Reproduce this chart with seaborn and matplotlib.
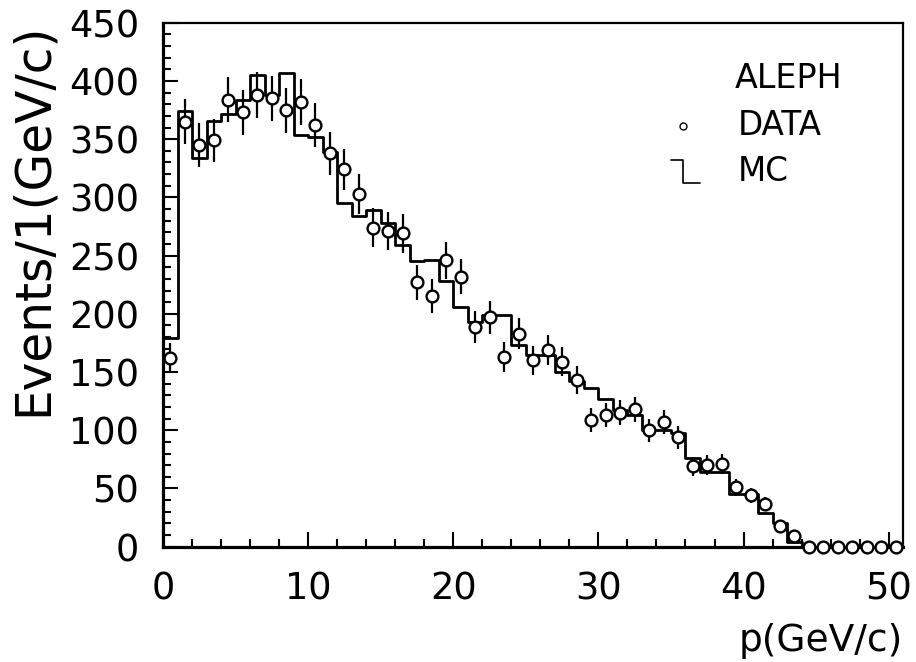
import numpy as np
import pandas as pd
import matplotlib
matplotlib.use("Agg")
import matplotlib.pyplot as plt
import seaborn as sns
from matplotlib.ticker import MultipleLocator
from matplotlib.lines import Line2D

# Momentum bins: 1 GeV/c wide, from 0 to 51 GeV/c
bin_edges = list(range(0, 52))
bin_centers = [e + 0.5 for e in bin_edges[:-1]]

# Observed events per bin
data_counts = [162, 365, 345, 349, 384, 373, 388, 385, 375, 382,
               362, 338, 324, 303, 274, 271, 269, 227, 215, 246,
               232, 189, 197, 163, 183, 160, 169, 159, 143, 109,
               113, 115, 118, 100, 107, 94, 69, 70, 71, 51,
               44, 37, 18, 9, 0, 0, 0, 0, 0, 0, 0]

# Simulated events per bin
mc_counts = [179, 374, 334, 366, 372, 384, 405, 388, 407, 354,
             352, 339, 295, 284, 289, 278, 259, 245, 246, 228,
             206, 193, 199, 199, 173, 165, 165, 150, 142, 136,
             127, 117, 113, 100, 100, 98, 76, 64, 64, 45,
             45, 29, 20, 4, 0, 0, 0, 0, 0, 0, 0]

x_ticks = [0, 10, 20, 30, 40, 50]
y_ticks = [0, 50, 100, 150, 200, 250, 300, 350, 400, 450]

df = pd.DataFrame({"p": bin_centers,
                   "data": np.asarray(data_counts, dtype=float),
                   "mc": np.asarray(mc_counts, dtype=float)})

sns.set_theme(style="ticks")
plt.rcParams['font.family'] = ['DejaVu Sans']
plt.rcParams['text.color'] = 'black'
plt.rcParams['axes.labelcolor'] = 'black'
plt.rcParams['xtick.color'] = 'black'
plt.rcParams['ytick.color'] = 'black'

fig = plt.figure(figsize=(9.16, 6.62), dpi=100)
ax = fig.add_axes([0.178, 0.1742, 0.808, 0.7914])

# Monte Carlo expectation as a step histogram
sns.histplot(data=df, x="p", weights="mc", bins=bin_edges,
             element="step", fill=False, color="black", linewidth=2.0,
             ax=ax)

# Data with Poisson error bars
ax.errorbar(df["p"], df["data"], yerr=np.sqrt(df["data"]), fmt='none',
            ecolor='black', elinewidth=1.6, capsize=0, zorder=3)
sns.scatterplot(data=df, x="p", y="data", marker='o', s=72,
                facecolor='white', edgecolor='black', linewidth=1.7,
                zorder=4, clip_on=False, ax=ax)

ax.set_xlim(0, 51)
ax.set_ylim(0, 450)
ax.set_xticks(x_ticks)
ax.set_yticks(y_ticks)
ax.xaxis.set_minor_locator(MultipleLocator(2))
ax.yaxis.set_minor_locator(MultipleLocator(10))
ax.tick_params(which='both', direction='in', top=False, right=False,
               labelsize=26.5, width=1.5, pad=17)
ax.tick_params(which='major', length=10.8)
ax.tick_params(which='minor', length=5.8)

for side in ['left', 'bottom']:
    ax.spines[side].set_linewidth(2.3)
for side in ['top', 'right']:
    ax.spines[side].set_linewidth(1.6)
for sp in ax.spines.values():
    sp.set_color('black')
    sp.set_visible(True)

ax.set_xlabel("p(GeV/c)", fontsize=27, loc='right', labelpad=11)
ax.set_ylabel("Events/1(GeV/c)", fontsize=35, loc='top', labelpad=9)

# Key in the upper right corner
ax.text(0.773, 0.893, "ALEPH", transform=ax.transAxes, fontsize=24,
        va='center', ha='left')
ax.text(0.777, 0.803, "DATA", transform=ax.transAxes, fontsize=23.5,
        va='center', ha='left')
ax.text(0.777, 0.716, "MC", transform=ax.transAxes, fontsize=23.5,
        va='center', ha='left')
ax.add_line(Line2D([0.703], [0.803], transform=ax.transAxes, marker='o',
                   markersize=5, markerfacecolor='white',
                   markeredgecolor='black', markeredgewidth=1.0,
                   linestyle='none'))
ax.add_line(Line2D([0.686, 0.703, 0.703, 0.726], [0.738, 0.738, 0.694, 0.694],
                   transform=ax.transAxes, color='black', linewidth=1.2))

fig.savefig("out.png", dpi=100, facecolor='white')
